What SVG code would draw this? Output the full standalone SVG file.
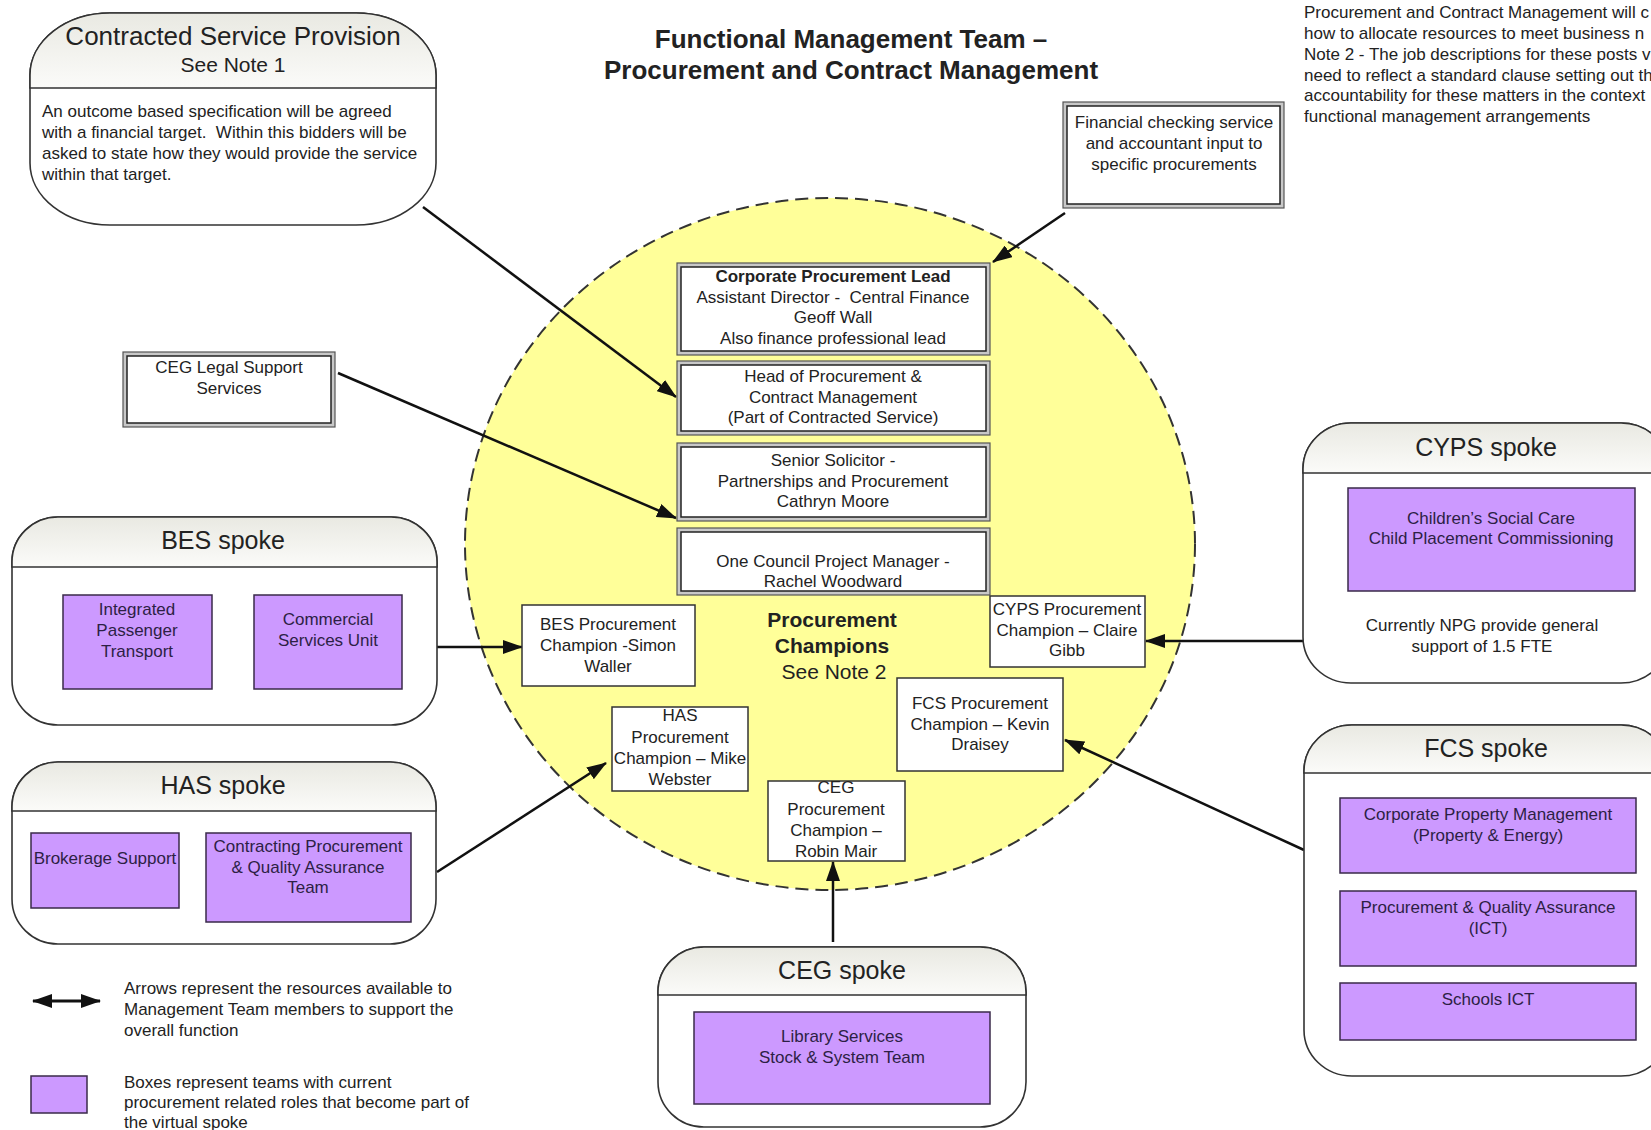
<svg xmlns="http://www.w3.org/2000/svg" width="1651" height="1130" viewBox="0 0 1651 1130">
<style>
text{font-family:"Liberation Sans",Arial,sans-serif;fill:#222}
.c{text-anchor:middle}
.f17{font-size:17px}
.f21{font-size:21px}
.f25{font-size:25px}
.b{font-weight:bold}
.pt{fill:#2d1f45;font-size:17px;text-anchor:middle}
.champ{fill:#fff;stroke:#333;stroke-width:1.5}
.purple{fill:#cc99ff;stroke:#3a2a4a;stroke-width:1.5}
.outer{fill:#c8c8c8;stroke:#555;stroke-width:1.2}
.inner{fill:#fff;stroke:#222;stroke-width:1.5}
.spoke{fill:#fff;stroke:#333;stroke-width:1.6}
.head{fill:url(#hg);stroke:#333;stroke-width:1.6}
.conn{stroke:#111;stroke-width:2.5;fill:none;marker-end:url(#ah)}
</style>
<defs>
<linearGradient id="hg" x1="0" y1="0" x2="0" y2="1">
<stop offset="0" stop-color="#e9e9e2"/>
<stop offset="1" stop-color="#fbfbf9"/>
</linearGradient>
<marker id="ah" markerUnits="userSpaceOnUse" markerWidth="20" markerHeight="14" refX="19" refY="7" orient="auto-start-reverse">
<path d="M0,0 L20,7 L0,14 Z" fill="#111"/>
</marker>
</defs>
<rect width="1651" height="1130" fill="#fff"/>

<g id="title">
<text class="c b" x="851" y="48" font-size="26">Functional Management Team –</text>
<text class="c b" x="851" y="79" font-size="26">Procurement and Contract Management</text>
</g>

<g id="notes">
<text class="f17" x="1304" y="18">Procurement and Contract Management will c</text>
<text class="f17" x="1304" y="39">how to allocate resources to meet business n</text>
<text class="f17" x="1304" y="60">Note 2 - The job descriptions for these posts v</text>
<text class="f17" x="1304" y="81">need to reflect a standard clause setting out th</text>
<text class="f17" x="1304" y="101">accountability for these matters in the context</text>
<text class="f17" x="1304" y="122">functional management arrangements</text>
</g>

<g id="circle">
<ellipse cx="830" cy="544" rx="365" ry="346" fill="#ffff99" stroke="#333" stroke-width="2" stroke-dasharray="13 7"/>
</g>

<g id="contracted">
<rect class="spoke" x="30" y="13" width="406" height="212" rx="80" ry="62"/>
<path class="head" d="M30,88 V75 A80,62 0 0 1 110,13 H356 A80,62 0 0 1 436,75 V88 Z"/>
<text class="c" x="233" y="45" font-size="26">Contracted Service Provision</text>
<text class="c" x="233" y="72" font-size="21">See Note 1</text>
<text class="f17" x="42" y="117">An outcome based specification will be agreed</text>
<text class="f17" x="42" y="138">with a financial target.&#160; Within this bidders will be</text>
<text class="f17" x="42" y="159">asked to state how they would provide the service</text>
<text class="f17" x="42" y="180">within that target.</text>
</g>

<g id="connectors">
<line class="conn" x1="423" y1="207" x2="676" y2="397"/>
<line class="conn" x1="338" y1="373" x2="676" y2="518"/>
<line class="conn" x1="1065" y1="213" x2="993" y2="262"/>
<line class="conn" x1="437" y1="647" x2="522" y2="647"/>
<line class="conn" x1="1303" y1="641" x2="1146" y2="641"/>
<line class="conn" x1="1304" y1="850" x2="1065" y2="740"/>
<line class="conn" x1="437" y1="872" x2="606" y2="763"/>
<line class="conn" x1="833" y1="942" x2="833" y2="862"/>
</g>

<g id="financial">
<rect class="outer" x="1063" y="102" width="221" height="106"/>
<rect class="inner" x="1067" y="106" width="213" height="98"/>
<text class="c f17" x="1174" y="128">Financial checking service</text>
<text class="c f17" x="1174" y="149">and accountant input to</text>
<text class="c f17" x="1174" y="170">specific procurements</text>
</g>

<g id="corporate-lead">
<rect class="outer" x="677" y="263" width="313" height="92"/>
<rect class="inner" x="681" y="267" width="305" height="84"/>
<text class="c f17 b" x="833" y="282">Corporate Procurement Lead</text>
<text class="c f17" x="833" y="303">Assistant Director -&#160; Central Finance</text>
<text class="c f17" x="833" y="323">Geoff Wall</text>
<text class="c f17" x="833" y="344">Also finance professional lead</text>
</g>

<g id="head-procurement">
<rect class="outer" x="677" y="361" width="313" height="74"/>
<rect class="inner" x="681" y="365" width="305" height="66"/>
<text class="c f17" x="833" y="382">Head of Procurement &amp;</text>
<text class="c f17" x="833" y="403">Contract Management</text>
<text class="c f17" x="833" y="423">(Part of Contracted Service)</text>
</g>

<g id="senior-solicitor">
<rect class="outer" x="677" y="443" width="313" height="78"/>
<rect class="inner" x="681" y="447" width="305" height="70"/>
<text class="c f17" x="833" y="466">Senior Solicitor -</text>
<text class="c f17" x="833" y="487">Partnerships and Procurement</text>
<text class="c f17" x="833" y="507">Cathryn Moore</text>
</g>

<g id="project-manager">
<rect class="outer" x="677" y="528" width="313" height="67"/>
<rect class="inner" x="681" y="532" width="305" height="59"/>
<text class="c f17" x="833" y="567">One Council Project Manager -</text>
<text class="c f17" x="833" y="587">Rachel Woodward</text>
</g>

<g id="champions-label">
<text class="c f21 b" x="832" y="627">Procurement</text>
<text class="c f21 b" x="832" y="653">Champions</text>
<text class="c f21" x="834" y="679">See Note 2</text>
</g>

<g id="bes-champion">
<rect class="champ" x="522" y="605" width="173" height="81"/>
<text class="c f17" x="608" y="630">BES Procurement</text>
<text class="c f17" x="608" y="651">Champion -Simon</text>
<text class="c f17" x="608" y="672">Waller</text>
</g>

<g id="cyps-champion">
<rect class="champ" x="990" y="596" width="155" height="71"/>
<text class="c f17" x="1067" y="615">CYPS Procurement</text>
<text class="c f17" x="1067" y="636">Champion – Claire</text>
<text class="c f17" x="1067" y="656">Gibb</text>
</g>

<g id="fcs-champion">
<rect class="champ" x="897" y="678" width="166" height="93"/>
<text class="c f17" x="980" y="709">FCS Procurement</text>
<text class="c f17" x="980" y="730">Champion – Kevin</text>
<text class="c f17" x="980" y="750">Draisey</text>
</g>

<g id="has-champion">
<rect class="champ" x="612" y="707" width="136" height="84"/>
<text class="c f17" x="680" y="721">HAS</text>
<text class="c f17" x="680" y="743">Procurement</text>
<text class="c f17" x="680" y="764">Champion – Mike</text>
<text class="c f17" x="680" y="785">Webster</text>
</g>

<g id="ceg-champion">
<rect class="champ" x="768" y="781" width="137" height="80"/>
<text class="c f17" x="836" y="793">CEG</text>
<text class="c f17" x="836" y="815">Procurement</text>
<text class="c f17" x="836" y="836">Champion –</text>
<text class="c f17" x="836" y="857">Robin Mair</text>
</g>

<g id="ceg-legal">
<rect class="outer" x="123" y="352" width="212" height="75"/>
<rect class="inner" x="127" y="356" width="204" height="67"/>
<text class="c f17" x="229" y="373">CEG Legal Support</text>
<text class="c f17" x="229" y="394">Services</text>
</g>

<g id="bes-spoke">
<rect class="spoke" x="12" y="517" width="425" height="208" rx="46" ry="45"/>
<path class="head" d="M12,567 V562 A46,45 0 0 1 58,517 H391 A46,45 0 0 1 437,562 V567 Z"/>
<text class="c f25" x="223" y="549">BES spoke</text>
<rect class="purple" x="63" y="595" width="149" height="94"/>
<text class="pt" x="137" y="615">Integrated</text>
<text class="pt" x="137" y="636">Passenger</text>
<text class="pt" x="137" y="657">Transport</text>
<rect class="purple" x="254" y="595" width="148" height="94"/>
<text class="pt" x="328" y="625">Commercial</text>
<text class="pt" x="328" y="646">Services Unit</text>
</g>

<g id="has-spoke">
<rect class="spoke" x="12" y="762" width="424" height="182" rx="46" ry="45"/>
<path class="head" d="M12,811 V807 A46,45 0 0 1 58,762 H390 A46,45 0 0 1 436,807 V811 Z"/>
<text class="c f25" x="223" y="794">HAS spoke</text>
<rect class="purple" x="31" y="833" width="148" height="75"/>
<text class="pt" x="105" y="864">Brokerage Support</text>
<rect class="purple" x="206" y="833" width="205" height="89"/>
<text class="pt" x="308" y="852">Contracting Procurement</text>
<text class="pt" x="308" y="873">&amp; Quality Assurance</text>
<text class="pt" x="308" y="893">Team</text>
</g>

<g id="ceg-spoke">
<rect class="spoke" x="658" y="947" width="368" height="180" rx="46" ry="45"/>
<path class="head" d="M658,995 V992 A46,45 0 0 1 704,947 H980 A46,45 0 0 1 1026,992 V995 Z"/>
<text class="c f25" x="842" y="979">CEG spoke</text>
<rect class="purple" x="694" y="1012" width="296" height="92"/>
<text class="pt" x="842" y="1042">Library Services</text>
<text class="pt" x="842" y="1063">Stock &amp; System Team</text>
</g>

<g id="cyps-spoke">
<rect class="spoke" x="1303" y="423" width="366" height="260" rx="48" ry="46"/>
<path class="head" d="M1303,473 V469 A48,46 0 0 1 1351,423 H1621 A48,46 0 0 1 1669,469 V473 Z"/>
<text class="c f25" x="1486" y="456">CYPS spoke</text>
<rect class="purple" x="1348" y="488" width="287" height="103"/>
<text class="pt" x="1491" y="524">Children’s Social Care</text>
<text class="pt" x="1491" y="544">Child Placement Commissioning</text>
<text class="c f17" x="1482" y="631">Currently NPG provide general</text>
<text class="c f17" x="1482" y="652">support of 1.5 FTE</text>
</g>

<g id="fcs-spoke">
<rect class="spoke" x="1304" y="725" width="365" height="351" rx="48" ry="46"/>
<path class="head" d="M1304,773 V771 A48,46 0 0 1 1352,725 H1621 A48,46 0 0 1 1669,771 V773 Z"/>
<text class="c f25" x="1486" y="757">FCS spoke</text>
<rect class="purple" x="1340" y="798" width="296" height="75"/>
<text class="pt" x="1488" y="820">Corporate Property Management</text>
<text class="pt" x="1488" y="841">(Property &amp; Energy)</text>
<rect class="purple" x="1340" y="891" width="296" height="75"/>
<text class="pt" x="1488" y="913">Procurement &amp; Quality Assurance</text>
<text class="pt" x="1488" y="934">(ICT)</text>
<rect class="purple" x="1340" y="983" width="296" height="57"/>
<text class="pt" x="1488" y="1005">Schools ICT</text>
</g>

<g id="legend">
<line x1="33" y1="1001" x2="100" y2="1001" stroke="#111" stroke-width="3" marker-start="url(#ah)" marker-end="url(#ah)"/>
<text class="f17" x="124" y="994">Arrows represent the resources available to</text>
<text class="f17" x="124" y="1015">Management Team members to support the</text>
<text class="f17" x="124" y="1036">overall function</text>
<rect class="purple" x="31" y="1076" width="56" height="37"/>
<text class="f17" x="124" y="1088">Boxes represent teams with current</text>
<text class="f17" x="124" y="1108">procurement related roles that become part of</text>
<text class="f17" x="124" y="1128">the virtual spoke</text>
</g>
</svg>
